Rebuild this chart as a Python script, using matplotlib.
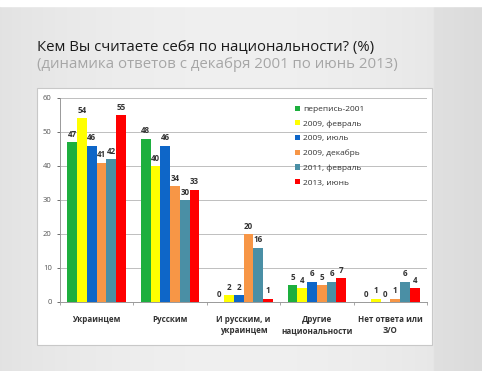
import matplotlib
matplotlib.use("Agg")
import matplotlib.pyplot as plt
import matplotlib.patches as mpatches
import numpy as np

plt.rcParams['font.family'] = ['Open Sans', 'DejaVu Sans']

# Data
categories = ["Украинцем", "Русским", "И русским, и\nукраинцем",
              "Другие\nнациональности", "Нет ответа или\nЗ/О"]
series_names = ["перепись-2001", "2009, февраль", "2009, июль",
                "2009, декабрь", "2011, февраль", "2013, июнь"]
census_2001 = [47, 48, 0, 5, 0]
feb_2009 = [54, 40, 2, 4, 1]
jul_2009 = [46, 46, 2, 6, 0]
dec_2009 = [41, 34, 20, 5, 1]
feb_2011 = [42, 30, 16, 6, 6]
jun_2013 = [55, 33, 1, 7, 4]
series = [census_2001, feb_2009, jul_2009, dec_2009, feb_2011, jun_2013]
colors = ["#1DAF3E", "#FFFF00", "#0E66C8", "#F79646", "#4A8FA5", "#FF0000"]
yticks = [0, 10, 20, 30, 40, 50, 60]

W, H = 482, 371
fig = plt.figure(figsize=(W / 100, H / 100), dpi=100)

# Background: gray slide with a soft gradient
bg = fig.add_axes([0, 0, 1, 1], zorder=-10)
gx = np.linspace(0, 1, 200)
grad = 0.94 - 0.05 * (gx - 0.5) ** 2 * 4
grad[gx > 0.9] -= 0.03
img = np.tile(grad, (50, 1))
bg.imshow(np.dstack([img, img, img]), extent=[0, 1, 0, 1], aspect='auto')
bg.add_patch(mpatches.Rectangle((0, 1 - 6 / H), 1, 6 / H, color='white'))
bg.set_xlim(0, 1)
bg.set_ylim(0, 1)
bg.axis('off')

# White chart panel
panel = mpatches.Rectangle((37 / W, 1 - 345 / H), (432 - 37) / W, (345 - 88) / H,
                           transform=fig.transFigure, facecolor='white',
                           edgecolor='#C8C8C8', linewidth=0.8, zorder=-5)
fig.patches.append(panel)

# Titles
fig.text(37 / W, 1 - 48 / H, "Кем Вы считаете себя по национальности? (%)",
         fontsize=10.7, color='#1A1A1A', va='center', ha='left')
fig.text(37 / W, 1 - 64 / H, "(динамика ответов с декабря 2001 по июнь 2013)",
         fontsize=10.8, color='#A6A6A6', va='center', ha='left')

ax = fig.add_axes([60 / W, 1 - 302 / H, (427 - 60) / W, (302 - 98) / H])
ax.set_facecolor('none')

x = np.arange(len(categories))
n = len(series)
width = 0.8 / n
for i, (vals, name, c) in enumerate(zip(series, series_names, colors)):
    pos = x - 0.4 + width * (i + 0.5)
    ax.bar(pos, vals, width, color=c, label=name, zorder=3)
    for xp, v in zip(pos, vals):
        ax.text(xp, v + 1.0, str(v), ha='center', va='bottom',
                fontsize=5.8, fontweight='bold', color='#333333')

ax.set_xlim(-0.5, len(categories) - 0.5)
ax.set_ylim(0, 60)
ax.set_yticks(yticks)
ax.tick_params(axis='y', labelsize=5.5, colors='#555555', length=2, width=0.6, pad=4)
ax.yaxis.grid(True, color='#BFBFBF', linewidth=0.7, zorder=0)
ax.set_xticks(np.arange(len(categories) + 1) - 0.5)
ax.set_xticklabels([])
ax.tick_params(axis='x', length=2.5, width=0.6, colors='#999999')
for xi, cat in zip(x, categories):
    ax.text(xi, -3.8, cat, ha='center', va='top', fontsize=5.8,
            fontweight='bold', color='#333333', linespacing=1.35)
for s in ['top', 'right']:
    ax.spines[s].set_visible(False)
for s in ['left', 'bottom']:
    ax.spines[s].set_color('#999999')
    ax.spines[s].set_linewidth(0.7)

ax.legend(loc='upper left', bbox_to_anchor=(0.62, 1.0), frameon=False,
          fontsize=6, handlelength=0.6, handleheight=0.6,
          handletextpad=0.4, labelspacing=0.85, labelcolor='#333333')

fig.savefig("out.png", dpi=100)
